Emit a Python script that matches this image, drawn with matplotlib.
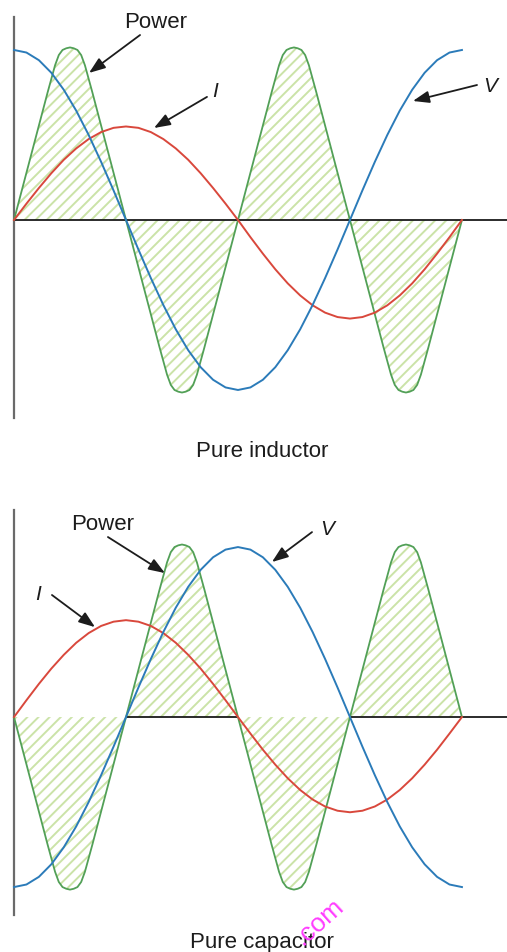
import numpy as np
import matplotlib.pyplot as plt

plt.rcParams['font.family'] = ['Liberation Sans', 'DejaVu Sans']
plt.rcParams['hatch.linewidth'] = 1.4

# Phase of the voltage and current samples, degrees
theta = np.arange(0, 361, 10)

# Pure inductor: V leads I by 90 degrees
v_ind = [1.000, 0.985, 0.940, 0.866, 0.766, 0.643, 0.500, 0.342, 0.174, 0.000,
         -0.174, -0.342, -0.500, -0.643, -0.766, -0.866, -0.940, -0.985, -1.000,
         -0.985, -0.940, -0.866, -0.766, -0.643, -0.500, -0.342, -0.174, 0.000,
         0.174, 0.342, 0.500, 0.643, 0.766, 0.866, 0.940, 0.985, 1.000]
i_ind = [0.000, 0.096, 0.188, 0.275, 0.354, 0.421, 0.476, 0.517, 0.542, 0.550,
         0.542, 0.517, 0.476, 0.421, 0.354, 0.275, 0.188, 0.096, 0.000,
         -0.101, -0.198, -0.290, -0.373, -0.444, -0.502, -0.545, -0.571, -0.580,
         -0.571, -0.545, -0.502, -0.444, -0.373, -0.290, -0.198, -0.101, 0.000]

# Pure capacitor: I leads V by 90 degrees
v_cap = [-1.000, -0.985, -0.940, -0.866, -0.766, -0.643, -0.500, -0.342, -0.174, 0.000,
         0.174, 0.342, 0.500, 0.643, 0.766, 0.866, 0.940, 0.985, 1.000,
         0.985, 0.940, 0.866, 0.766, 0.643, 0.500, 0.342, 0.174, 0.000,
         -0.174, -0.342, -0.500, -0.643, -0.766, -0.866, -0.940, -0.985, -1.000]
i_cap = [0.000, 0.099, 0.195, 0.285, 0.366, 0.437, 0.494, 0.536, 0.561, 0.570,
         0.561, 0.536, 0.494, 0.437, 0.366, 0.285, 0.195, 0.099, 0.000,
         -0.097, -0.192, -0.280, -0.360, -0.429, -0.485, -0.526, -0.551, -0.560,
         -0.551, -0.526, -0.485, -0.429, -0.360, -0.280, -0.192, -0.097, 0.000]

# One power lobe (a quarter period), and the sign of each of the four lobes
lobe_deg = [0, 9, 18, 27, 33, 36, 39, 42, 45, 48, 51, 54, 57, 63, 72, 81, 90]
lobe_val = [0.00, 0.25, 0.50, 0.75, 0.91, 0.97, 1.00, 1.01, 1.015, 1.01,
            1.00, 0.97, 0.91, 0.75, 0.50, 0.25, 0.00]
signs_ind = [1, -1, 1, -1]
signs_cap = [-1, 1, -1, 1]

C_V = '#2b7bb9'
C_I = '#d9483c'
C_P = '#52a057'
C_HATCH = '#cbe3a8'
C_TXT = '#1c1c1c'


def power_curve(signs):
    ph, pw = [], []
    for k, s in enumerate(signs):
        ph += [90 * k + d for d in lobe_deg[(1 if k else 0):]]
        pw += [s * v for v in lobe_val[(1 if k else 0):]]
    return np.array(ph, float), np.array(pw, float)


def panel(ax, v, i, signs, ylim, vbounds, cover_axis):
    ax.set_xlim(-11.25, 396.2)
    ax.set_ylim(*ylim)
    ax.set_xticks([])
    ax.set_yticks([])
    for s in ('top', 'right'):
        ax.spines[s].set_visible(False)
    ax.spines['left'].set_position(('data', 0))
    ax.spines['left'].set_bounds(*vbounds)
    ax.spines['left'].set_color('#6a6a6a')
    ax.spines['left'].set_linewidth(1.6)
    ax.spines['bottom'].set_position(('data', 0))
    ax.spines['bottom'].set_bounds(0, 400)
    ax.spines['bottom'].set_color('#1a1a1a')
    ax.spines['bottom'].set_linewidth(1.3)
    ax.patch.set_visible(False)

    ph, pw = power_curve(signs)
    neg = pw <= 0
    if cover_axis:
        # the negative lobes of the capacitor panel sit over the axis line
        ax.fill_between(ph, pw, 0.009, where=neg, interpolate=True,
                        facecolor='white', linewidth=0, zorder=3)
    ax.fill_between(ph, pw, 0, where=pw >= 0, interpolate=True,
                    facecolor='none', edgecolor=C_HATCH, hatch='///',
                    linewidth=0, zorder=1)
    ax.fill_between(ph, pw, 0, where=neg, interpolate=True,
                    facecolor='none', edgecolor=C_HATCH, hatch='///',
                    linewidth=0, zorder=3.1 if cover_axis else 1)
    ax.plot(ph, pw, color=C_P, lw=1.3, zorder=4, solid_capstyle='round')
    ax.plot(theta, i, color=C_I, lw=1.4, zorder=5)
    ax.plot(theta, v, color=C_V, lw=1.4, zorder=5)


def label(ax, text, tip, tail, pos, italic=False):
    ax.annotate('', xy=tip, xytext=tail,
                arrowprops=dict(arrowstyle='-|>,head_length=0.7,head_width=0.26',
                                color=C_TXT, lw=1.3, shrinkA=0, shrinkB=0,
                                mutation_scale=14), zorder=6)
    ax.text(*pos, text, ha='center', va='baseline', color=C_TXT,
            fontsize=15 if italic else 16, style='italic' if italic else 'normal',
            zorder=6)


fig = plt.figure(figsize=(5.07, 9.52), dpi=100)
ax1 = fig.add_axes([0, 0.5, 1, 0.5])
ax2 = fig.add_axes([0, 0, 1, 0.5])

panel(ax1, v_ind, i_ind, signs_ind, (-1.506, 1.294), (-1.165, 1.194), False)
label(ax1, 'Power', (60.3, 0.865), (101.3, 1.088), (113.7, 1.129))
label(ax1, 'I', (112.5, 0.541), (155.1, 0.724), (161.5, 0.724), italic=True)
label(ax1, 'V', (320.6, 0.70), (372.1, 0.794), (382.5, 0.753), italic=True)
ax1.text(199.3, -1.394, 'Pure inductor', ha='center', va='baseline',
         color=C_TXT, fontsize=16)

panel(ax2, v_cap, i_cap, signs_cap, (-1.382, 1.418), (-1.165, 1.218), True)
label(ax2, 'Power', (121.3, 0.847), (75.5, 1.059), (71.1, 1.10))
label(ax2, 'I', (65.1, 0.529), (30.5, 0.718), (19.3, 0.688), italic=True)
label(ax2, 'V', (207.3, 0.912), (239.5, 1.088), (251.5, 1.071), italic=True)
ax2.text(199.3, -1.359, 'Pure capacitor', ha='center', va='baseline',
         color=C_TXT, fontsize=16)

fig.text(319 / 507, 1 - 922 / 952, '.com', rotation=42, rotation_mode='anchor',
         ha='center', va='center', color='#ff3cff', fontsize=19)

fig.savefig('out.png', dpi=100)
